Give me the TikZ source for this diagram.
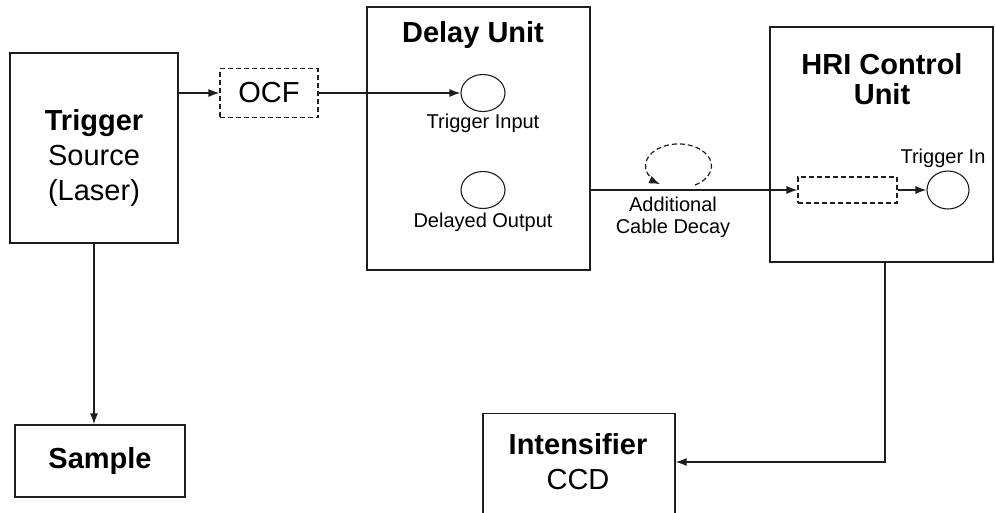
\documentclass[tikz,border=0pt]{standalone}
\usepackage{fontspec}
\setmainfont{Liberation Sans}
\usetikzlibrary{arrows.meta, positioning, shapes.geometric, calc}
\definecolor{linegray}{RGB}{30, 30, 30}

\begin{document}
\begin{tikzpicture}[
    x=1pt, y=-1pt,
    block/.style={
        draw=linegray, line width=1.3pt, inner sep=0pt
    },
    dashblock/.style={
        draw=linegray, line width=1.2pt, dashed, dash pattern=on 5pt off 3pt,
        inner sep=0pt
    },
    bigtext/.style={
        align=center, inner sep=0pt,
        font=\fontsize{29}{35}\selectfont
    },
    smalltext/.style={
        align=center, inner sep=0pt,
        font=\fontsize{20}{21.5}\selectfont
    },
    port/.style={
        draw=linegray, line width=1.1pt, ellipse, inner sep=0pt,
        minimum width=44pt, minimum height=37pt
    },
    arrow/.style={-{Latex[length=11pt, width=8pt]}, linegray, line width=1.3pt}
]

% FRAME
\clip (0,0) rectangle (995,512);
\fill[white] (0,0) rectangle (995,512);

% TRIGGER SOURCE AND SAMPLE
\node[block, minimum width=168pt, minimum height=190pt] at (94,148) (src) {};
\node[bigtext] at (94,158) (srctext) {\textbf{Trigger}\\Source\\(Laser)};

\node[block, minimum width=170pt, minimum height=72pt, bigtext] at (100,461) (sample) {\textbf{Sample}};

% OCF
\node[dashblock, minimum width=98pt, minimum height=49pt, bigtext] at (269,93) (ocf) {OCF};

% DELAY UNIT
\node[block, minimum width=223pt, minimum height=263pt] at (478.5,138.5) (delay) {};
\node[bigtext] at (473,35) (delaytitle) {\textbf{Delay Unit}};
\node[port] at (483,93) (tin) {};
\node[smalltext] at (483,123) (tinlabel) {Trigger Input};
\node[port] at (483,190) (tout) {};
\node[smalltext] at (483,222) (toutlabel) {Delayed Output};

% HRI CONTROL UNIT
\node[block, minimum width=223pt, minimum height=235pt] at (881.5,144.5) (hri) {};
\node[bigtext] at (882,79) (hrititle) {\textbf{HRI Control}\\[-5pt]\textbf{Unit}};
\node[dashblock, minimum width=99pt, minimum height=26pt] at (847.5,190) (cable) {};
\node[port, minimum width=42pt, minimum height=38pt] at (948,190) (trin) {};
\node[smalltext] at (943,158) (trinlabel) {Trigger In};

% CABLE DELAY LOOP
\coordinate (loop) at (678.5,166);
\coordinate (hriout) at (885,262);
\node[smalltext] at (673,217.5) (looplabel) {Additional\\Cable Decay};

% INTENSIFIER CCD
\node[block, minimum width=192pt, minimum height=120pt, anchor=north] at (579,413) (ccd) {};
\node[bigtext] at (578,462) (ccdtext) {\textbf{Intensifier}\\CCD};

% ARROWS
\draw[arrow] (src.east |- ocf.west) -- (ocf.west);
\draw[arrow] (ocf.east) -- (ocf.east -| tin.west);
\draw[arrow] (src.south) -- (src.south |- sample.north);
\draw[arrow] (delay.east |- cable.west) -- (cable.west);
\draw[arrow] (cable.east) -- (trin.west);
\draw[arrow] (hriout) |- (ccdtext -| ccd.east);
\draw[arrow, dashed, dash pattern=on 5pt off 3pt, line width=1.2pt]
    ($(loop)+(16.5,19)$) arc[start angle=60, end angle=-236, x radius=33, y radius=22];

\end{tikzpicture}
\end{document}
